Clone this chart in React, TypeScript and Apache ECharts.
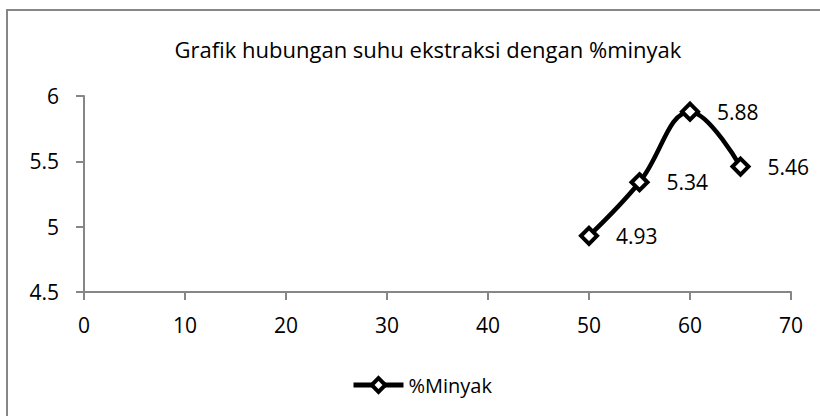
import React, { useEffect, useRef } from "react";
import * as echarts from "echarts";

const suhu = [50, 55, 60, 65];
const minyak = [4.93, 5.34, 5.88, 5.46];
const titleText = "Grafik hubungan suhu ekstraksi dengan %minyak";
const seriesName = "%Minyak";

export default function App() {
  const ref = useRef<HTMLDivElement>(null);
  useEffect(() => {
    const chart = echarts.init(ref.current!, null, { renderer: "svg" });
    const font = "'Open Sans', sans-serif";
    chart.setOption({
      animation: false,
      backgroundColor: "#ffffff",
      title: {
        text: titleText,
        left: 423,
        textAlign: "center",
        top: 33,
        textStyle: { fontFamily: font, fontSize: 22, fontWeight: "normal", color: "#000" },
      },
      grid: { left: 84, right: 29, top: 96, bottom: 124 },
      legend: {
        left: 346,
        top: 370,
        itemWidth: 50,
        itemHeight: 17,
        itemGap: 6,
        textStyle: { fontFamily: font, fontSize: 20, color: "#000" },
        data: [
          {
            name: seriesName,
            lineStyle: { color: "#000", width: 5 },
            itemStyle: { color: "#fff", borderColor: "#000", borderWidth: 4 },
          },
        ],
      },
      xAxis: {
        type: "value",
        min: 0,
        max: 70,
        interval: 10,
        axisLine: { show: true, lineStyle: { color: "#868686", width: 2 } },
        axisTick: { show: true, length: 8, inside: false, lineStyle: { color: "#868686", width: 2 } },
        axisLabel: { fontFamily: font, fontSize: 21, color: "#000", margin: 22 },
        splitLine: { show: false },
      },
      yAxis: {
        type: "value",
        min: 4.5,
        max: 6,
        interval: 0.5,
        axisLine: { show: true, lineStyle: { color: "#868686", width: 2 } },
        axisTick: { show: true, length: 8, inside: false, lineStyle: { color: "#868686", width: 2 } },
        axisLabel: { fontFamily: font, fontSize: 21, color: "#000", margin: 25 },
        splitLine: { show: false },
      },
      series: [
        {
          name: seriesName,
          type: "line",
          smooth: 0.4,
          data: suhu.map((x, i) => [x, minyak[i]]),
          symbol: "diamond",
          symbolSize: 16,
          lineStyle: { color: "#000", width: 4.5 },
          itemStyle: { color: "#fff", borderColor: "#000", borderWidth: 4 },
          label: {
            show: true,
            position: "right",
            distance: 17,
            fontFamily: font,
            fontSize: 21,
            color: "#000",
          },
        },
      ],
      graphic: [
        {
          type: "rect",
          shape: { x: 7, y: 10, width: 900, height: 600 },
          style: { fill: "none", stroke: "#868686", lineWidth: 2 },
          silent: true,
        },
      ],
    });
    return () => chart.dispose();
  }, []);
  return <div ref={ref} style={{ width: 820, height: 416, position: "absolute", left: 0, top: 0 }} />;
}
